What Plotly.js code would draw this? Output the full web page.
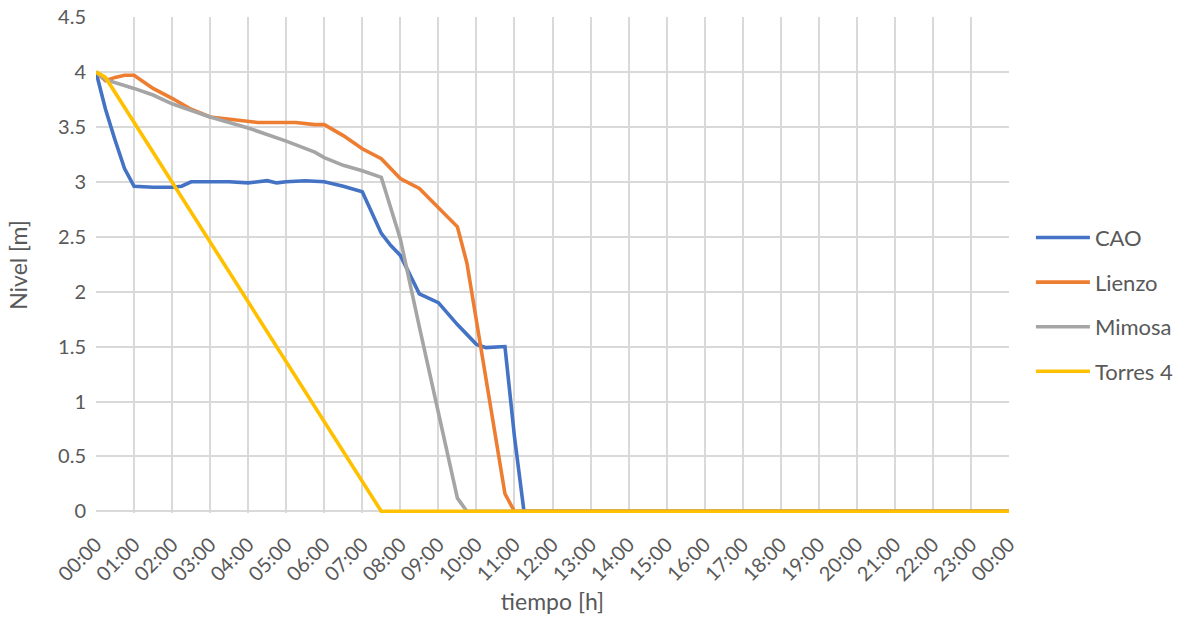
<!DOCTYPE html>
<html>
<head>
<meta charset="utf-8">
<script src="https://cdn.plot.ly/plotly-3.0.1.min.js"></script>
<style>
  html, body { margin: 0; padding: 0; background: #ffffff; }
  #chart { width: 1184px; height: 617px; }
</style>
</head>
<body>
<div id="chart"></div>
<script>
// ---- Data (time of day hh:mm, level in m) ----
const seriesNames = ["CAO", "Lienzo", "Mimosa", "Torres 4"];

const caoTime = ["00:00","00:15","00:30","00:45","01:00","01:30","02:00","02:15","02:30","03:00","03:30","04:00","04:30","04:45","05:00","05:30","06:00","06:30","07:00","07:30","07:45","08:00","08:30","09:00","09:30","10:00","10:15","10:45","11:00","11:15","24:00"];
const caoLevel = [4.0, 3.66, 3.38, 3.12, 2.96, 2.95, 2.95, 2.96, 3.0, 3.0, 3.0, 2.99, 3.01, 2.99, 3.0, 3.01, 3.0, 2.96, 2.91, 2.53, 2.42, 2.33, 1.98, 1.90, 1.70, 1.52, 1.49, 1.50, 0.68, 0.0, 0.0];

const lienzoTime = ["00:00","00:15","00:30","00:45","01:00","01:15","01:30","02:00","02:30","03:00","03:30","04:00","04:15","05:00","05:15","05:45","06:00","06:30","07:00","07:30","08:00","08:30","09:00","09:30","09:45","10:00","10:30","10:45","11:00","24:00"];
const lienzoLevel = [4.0, 3.92, 3.95, 3.97, 3.97, 3.91, 3.85, 3.76, 3.66, 3.59, 3.57, 3.55, 3.54, 3.54, 3.54, 3.52, 3.52, 3.42, 3.30, 3.21, 3.03, 2.94, 2.77, 2.59, 2.26, 1.73, 0.70, 0.16, 0.0, 0.0];

const mimosaTime = ["00:00","00:15","01:00","01:30","02:00","03:00","04:00","05:00","05:45","06:00","06:30","07:00","07:30","08:00","08:30","09:00","09:30","09:45","24:00"];
const mimosaLevel = [4.0, 3.93, 3.85, 3.79, 3.71, 3.59, 3.49, 3.37, 3.27, 3.22, 3.15, 3.10, 3.04, 2.48, 1.68, 0.90, 0.12, 0.0, 0.0];

const torresTime = ["00:00","00:15","07:30","24:00"];
const torresLevel = [4.0, 3.95, 0.0, 0.0];

const colors = ["#4472C4", "#ED7D31", "#A5A5A5", "#FFC000"];
const yTicks = [0, 0.5, 1, 1.5, 2, 2.5, 3, 3.5, 4, 4.5];

// helper: "hh:mm" -> date string on a reference day
function toDate(t) {
  const [h, m] = t.split(":").map(Number);
  const day = h >= 24 ? "2024-01-02" : "2024-01-01";
  const hh = String(h % 24).padStart(2, "0");
  return day + " " + hh + ":" + String(m).padStart(2, "0");
}

const times = [caoTime, lienzoTime, mimosaTime, torresTime];
const levels = [caoLevel, lienzoLevel, mimosaLevel, torresLevel];

const font = "Lato, 'Open Sans', sans-serif";
const textColor = "#595959";
const gridColor = "#d9d9d9";

const traces = seriesNames.map((name, i) => ({
  type: "scatter",
  mode: "lines",
  name: name,
  legendgroup: name,
  x: times[i].map(toDate),
  y: levels[i],
  line: { color: colors[i], width: 3.6 },
  hoverinfo: "x+y+name"
}));

const layout = {
  width: 1184,
  height: 617,
  paper_bgcolor: "#ffffff",
  plot_bgcolor: "#ffffff",
  margin: { l: 96, r: 175, t: 17, b: 103.5, autoexpand: false },
  showlegend: true,
  font: { family: font, color: textColor, size: 20 },
  xaxis: {
    type: "date",
    range: ["2024-01-01 00:00", "2024-01-02 00:00"],
    tickformat: "%H:%M",
    dtick: 3600000,
    tick0: "2024-01-01 00:00",
    tickangle: -45,
    tickfont: { family: font, size: 20, color: textColor },
    showgrid: true,
    gridcolor: gridColor,
    gridwidth: 2,
    showline: false,
    zeroline: false,
    ticks: "",
    ticklabelstandoff: 15,
    automargin: false,
    title: { text: "tiempo [h]", font: { family: font, size: 23, color: textColor }, standoff: 9 }
  },
  yaxis: {
    range: [-0.015, 4.5],
    tickvals: yTicks,
    ticktext: yTicks.map(v => String(v)),
    tickfont: { family: font, size: 20, color: textColor },
    showgrid: true,
    gridcolor: gridColor,
    gridwidth: 2,
    showline: false,
    zeroline: false,
    ticks: "",
    ticklabelstandoff: 9,
    automargin: false,
    title: { text: "Nivel [m]", font: { family: font, size: 23, color: textColor }, standoff: 24 }
  },
  legend: {
    x: 1.024,
    xanchor: "left",
    y: 0.42,
    yanchor: "middle",
    font: { family: font, size: 22, color: textColor },
    tracegroupgap: 13,
    bgcolor: "rgba(0,0,0,0)",
    itemwidth: 54
  }
};

Plotly.newPlot("chart", traces, layout, { displayModeBar: false });
</script>
</body>
</html>
